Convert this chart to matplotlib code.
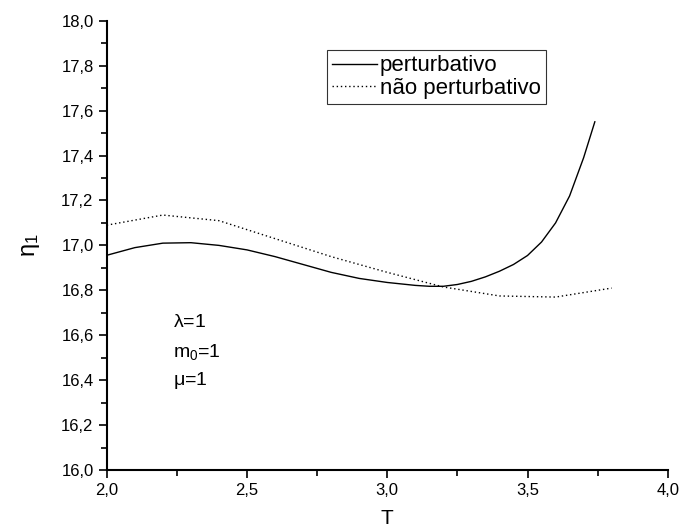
import matplotlib.pyplot as plt
from matplotlib.ticker import MultipleLocator, FuncFormatter

plt.rcParams['font.family'] = ['Liberation Sans', 'DejaVu Sans']
plt.rcParams['mathtext.default'] = 'regular'

# perturbativo (solid)
T_pert = [2.0, 2.1, 2.2, 2.3, 2.4, 2.5, 2.6, 2.7, 2.8, 2.9, 3.0, 3.1, 3.15,
          3.2, 3.25, 3.3, 3.35, 3.4, 3.45, 3.5, 3.55, 3.6, 3.65, 3.7, 3.74]
eta_pert = [16.956, 16.99, 17.01, 17.012, 17.0, 16.98, 16.95, 16.915, 16.88,
            16.853, 16.835, 16.822, 16.818, 16.818, 16.826, 16.84, 16.86,
            16.885, 16.915, 16.955, 17.015, 17.10, 17.22, 17.39, 17.55]

# nao perturbativo (dotted)
T_np = [2.0, 2.2, 2.4, 2.6, 2.8, 3.0, 3.2, 3.4, 3.6, 3.8]
eta_np = [17.09, 17.135, 17.11, 17.03, 16.95, 16.88, 16.815, 16.775, 16.77, 16.81]

fig = plt.figure(figsize=(6.8, 5.3), dpi=100)
ax = fig.add_axes([0.157, 0.113, 0.825, 0.848])

ax.plot(T_pert, eta_pert, color='black', lw=1.0, label='perturbativo')
ax.plot(T_np, eta_np, color='black', lw=1.0, linestyle=(0, (1, 2)),
        label='não perturbativo')

ax.set_xlim(2.0, 4.0)
ax.set_ylim(16.0, 18.0)

ax.spines['top'].set_visible(False)
ax.spines['right'].set_visible(False)
for s in ('left', 'bottom'):
    ax.spines[s].set_linewidth(1.5)

ax.xaxis.set_major_locator(MultipleLocator(0.5))
ax.xaxis.set_minor_locator(MultipleLocator(0.25))
ax.yaxis.set_major_locator(MultipleLocator(0.2))
ax.yaxis.set_minor_locator(MultipleLocator(0.1))
comma = FuncFormatter(lambda v, p: f'{v:.1f}'.replace('.', ','))
ax.xaxis.set_major_formatter(comma)
ax.yaxis.set_major_formatter(comma)
ax.tick_params(which='major', direction='out', length=6, width=1.2,
               labelsize=12)
ax.tick_params(which='minor', direction='out', length=4, width=1.2)

ax.set_xlabel('T', fontsize=15, labelpad=8)
ax.set_ylabel(r'$\eta_1$', fontsize=17, labelpad=14)

ax.text(0.118, 0.318, r'$\lambda$=1', transform=ax.transAxes, fontsize=14)
ax.text(0.118, 0.252, r'm$_0$=1', transform=ax.transAxes, fontsize=14)
ax.text(0.118, 0.190, r'$\mu$=1', transform=ax.transAxes, fontsize=14)

leg = ax.legend(loc='upper left', bbox_to_anchor=(0.392, 0.935), fontsize=16,
                frameon=True, fancybox=False, handlelength=2.0,
                handletextpad=0.15, borderpad=0.25, labelspacing=0.05,
                borderaxespad=0)
leg.get_frame().set_edgecolor('black')
leg.get_frame().set_linewidth(0.8)

fig.savefig('out.png', dpi=100)
